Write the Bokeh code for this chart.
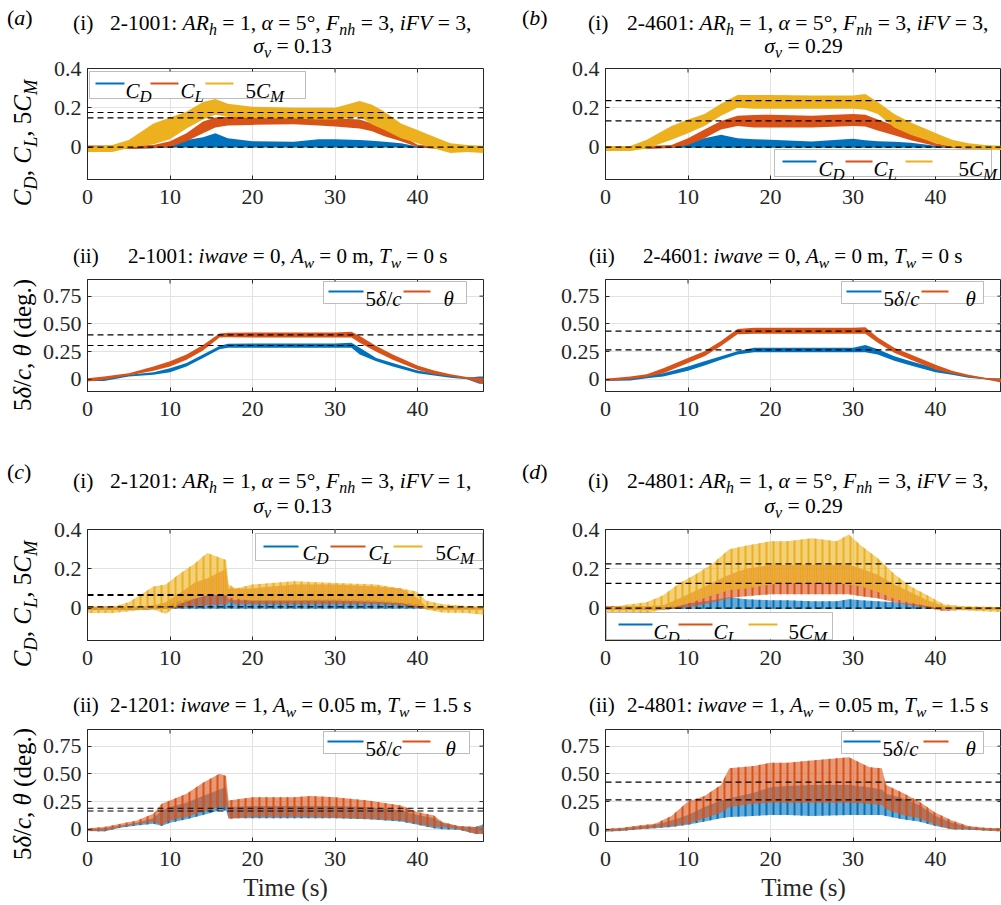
import numpy as np
from bokeh.plotting import figure
from bokeh.models import Range1d, FixedTicker, Span, BoxAnnotation, Label, Arrow, Div
from bokeh.layouts import column, row
from bokeh.embed import file_html
from bokeh.resources import INLINE

BLUE, ORANGE, YELLOW = "#0072BD", "#D95319", "#EDB120"
INK = "#262626"
FONT = "Liberation Serif"

# ---------------------------------------------------------------- axes / text data
X_TICKS = [0, 10, 20, 30, 40]
X_LIM = (0, 48)
Y_TICKS_FORCE = [0, 0.2, 0.4]
Y_LABELS_FORCE = ["0", "0.2", "0.4"]
Y_TICKS_MOTION = [0, 0.25, 0.5, 0.75]
Y_LABELS_MOTION = ["0", "0.25", "0.50", "0.75"]
YLIM_FORCE = (-0.165, 0.4)
YLIM_MOTION = (-0.11, 0.9)

RUN_IDS = ["2-1001", "2-4601", "2-1201", "2-4801"]
IFV = [3, 3, 1, 3]
SIGMA_V = ["0.13", "0.29", "0.13", "0.29"]
IWAVE = [0, 0, 1, 1]
A_W = ["0", "0", "0.05", "0.05"]
T_W = ["0", "0", "1.5", "1.5"]
PANEL_TAGS = ["a", "b", "c", "d"]

# ---------------------------------------------------------------- 2-1001 (calm water)
A1_T = [0, 3, 5, 8, 10, 12, 14, 15.5, 17, 20, 25, 28, 30, 33, 34.5, 36, 38, 40, 42, 44, 46, 48]
A1_CD_LO = [-0.01, -0.01, -0.01, -0.006, -0.002, -0.002, -0.002, -0.002, -0.002, -0.002, -0.002,
            -0.002, -0.002, -0.002, -0.002, -0.002, -0.002, -0.004, -0.005, -0.005, -0.005, -0.005]
A1_CD_HI = [0.003, 0.003, 0.003, 0.005, 0.015, 0.036, 0.05, 0.07, 0.045, 0.03, 0.027,
            0.04, 0.04, 0.036, 0.032, 0.027, 0.02, 0.003, 0.002, 0.002, 0.002, 0.002]
A1_CL_LO = [-0.01, -0.01, -0.01, -0.005, 0.0, 0.03, 0.07, 0.1, 0.11, 0.113, 0.116,
            0.11, 0.105, 0.095, 0.08, 0.055, 0.03, 0.0, -0.008, -0.01, -0.01, -0.01]
A1_CL_HI = [0.008, 0.008, 0.008, 0.01, 0.03, 0.07, 0.13, 0.15, 0.155, 0.155, 0.155,
            0.152, 0.147, 0.14, 0.12, 0.1, 0.06, 0.012, 0.005, 0.005, 0.005, 0.005]
A1_CM_LO = [-0.025, -0.025, -0.005, 0.015, 0.04, 0.095, 0.14, 0.165, 0.155, 0.147, 0.145,
            0.14, 0.14, 0.155, 0.115, 0.087, 0.045, 0.02, -0.007, -0.03, -0.025, -0.03]
A1_CM_HI = [0.0, 0.01, 0.036, 0.12, 0.15, 0.18, 0.23, 0.245, 0.22, 0.205, 0.2,
            0.2, 0.2, 0.235, 0.215, 0.18, 0.12, 0.087, 0.053, 0.02, 0.01, 0.007]
A1_REF = [0.176, 0.149, 0.0]

A2_T = [0, 2, 5, 8, 10, 12, 14, 16, 17, 20, 25, 30, 32, 33, 35, 37, 40, 42, 44, 46, 47.5, 48]
A2_DEF_LO = [-0.015, -0.015, 0.025, 0.04, 0.064, 0.116, 0.193, 0.27, 0.285, 0.285, 0.285, 0.285,
             0.285, 0.223, 0.162, 0.116, 0.055, 0.034, 0.015, 0.0, -0.04, -0.04]
A2_DEF_HI = [0.005, 0.01, 0.04, 0.064, 0.1, 0.147, 0.223, 0.3, 0.32, 0.322, 0.322, 0.322,
             0.33, 0.284, 0.193, 0.147, 0.08, 0.055, 0.034, 0.015, 0.025, 0.025]
A2_TH_LO = [-0.02, -0.005, 0.034, 0.076, 0.116, 0.177, 0.26, 0.376, 0.38, 0.378, 0.378, 0.378,
            0.376, 0.33, 0.248, 0.177, 0.086, 0.046, 0.025, 0.003, -0.03, -0.04]
A2_TH_HI = [0.01, 0.025, 0.055, 0.116, 0.162, 0.223, 0.31, 0.413, 0.42, 0.422, 0.422, 0.422,
            0.428, 0.39, 0.3, 0.223, 0.125, 0.08, 0.046, 0.02, 0.015, 0.015]
A2_REF = [0.40, 0.305]

# ---------------------------------------------------------------- 2-4601 (calm water)
B1_T = [0, 3, 5, 8, 10, 12, 14, 16, 18, 20, 25, 30, 31.5, 33, 35, 37, 40, 42, 44, 46, 48]
B1_CD_LO = [-0.008, -0.008, -0.008, -0.004, -0.003, -0.003, -0.003, -0.003, -0.003, -0.003, -0.003,
            -0.003, -0.003, -0.003, -0.003, -0.003, -0.003, -0.004, -0.005, -0.005, -0.005]
B1_CD_HI = [0.003, 0.003, 0.003, 0.005, 0.02, 0.045, 0.063, 0.045, 0.04, 0.037, 0.028,
            0.042, 0.035, 0.03, 0.027, 0.022, 0.007, 0.003, 0.003, 0.003, 0.003]
B1_CL_LO = [-0.01, -0.01, -0.008, -0.005, 0.01, 0.045, 0.09, 0.107, 0.1, 0.1, 0.1,
            0.107, 0.105, 0.085, 0.06, 0.035, 0.005, -0.005, -0.008, -0.008, -0.01]
B1_CL_HI = [0.005, 0.005, 0.005, 0.01, 0.045, 0.09, 0.133, 0.16, 0.163, 0.165, 0.16,
            0.168, 0.165, 0.14, 0.11, 0.075, 0.02, 0.005, 0.005, 0.005, 0.005]
B1_CM_LO = [-0.02, -0.02, -0.007, 0.037, 0.07, 0.107, 0.16, 0.2, 0.195, 0.195, 0.195,
            0.195, 0.19, 0.168, 0.1, 0.063, 0.02, 0.0, -0.007, -0.012, -0.015]
B1_CM_HI = [0.005, 0.005, 0.037, 0.107, 0.14, 0.168, 0.22, 0.265, 0.265, 0.265, 0.262,
            0.262, 0.27, 0.23, 0.168, 0.125, 0.072, 0.037, 0.02, 0.01, 0.007]
B1_REF = [0.236, 0.133, 0.0]

B2_T = [0, 3, 5, 7, 10, 12, 14, 16, 18, 25, 30, 31.5, 33, 35, 37, 40, 42, 44, 46, 48]
B2_DEF_LO = [-0.015, -0.01, 0.01, 0.025, 0.076, 0.125, 0.177, 0.223, 0.245, 0.245, 0.245,
             0.245, 0.223, 0.168, 0.125, 0.064, 0.04, 0.015, 0.0, -0.02]
B2_DEF_HI = [0.003, 0.015, 0.034, 0.055, 0.116, 0.162, 0.208, 0.254, 0.284, 0.284, 0.284,
             0.31, 0.27, 0.208, 0.162, 0.1, 0.064, 0.034, 0.012, 0.008]
B2_TH_LO = [-0.015, 0.0, 0.02, 0.055, 0.147, 0.208, 0.3, 0.407, 0.41, 0.41, 0.41,
            0.41, 0.33, 0.24, 0.177, 0.086, 0.052, 0.02, 0.0, -0.03]
B2_TH_HI = [0.005, 0.025, 0.046, 0.1, 0.193, 0.254, 0.346, 0.453, 0.465, 0.465, 0.465,
            0.47, 0.376, 0.284, 0.223, 0.131, 0.076, 0.04, 0.015, 0.003]
B2_REF = [0.435, 0.265]

# ---------------------------------------------------------------- 2-1201 (regular waves)
C1_T = [0, 3, 5, 7, 8, 9.5, 11, 13, 14.5, 16.8, 17.1, 18, 20, 25, 30, 35, 38, 40, 41, 43, 46, 48]
C1_CD_LO = [-0.01, -0.01, -0.01, -0.008, -0.006, -0.004, -0.003, -0.003, -0.003, -0.003, -0.003,
            -0.003, -0.003, -0.003, -0.003, -0.003, -0.003, -0.003, -0.004, -0.005, -0.005, -0.005]
C1_CD_HI = [0.003, 0.003, 0.003, 0.003, 0.005, 0.01, 0.035, 0.05, 0.065, 0.07, 0.045,
            0.04, 0.04, 0.04, 0.045, 0.04, 0.03, 0.02, 0.003, 0.003, 0.003, 0.003]
C1_CL_LO = [-0.01, -0.01, -0.01, -0.008, -0.005, -0.005, 0.0, 0.01, 0.015, 0.02, 0.03,
            0.02, 0.02, 0.02, 0.02, 0.02, 0.015, 0.0, -0.005, -0.01, -0.01, -0.01]
C1_CL_HI = [0.008, 0.008, 0.008, 0.01, 0.015, 0.03, 0.07, 0.13, 0.15, 0.2, 0.1,
            0.1, 0.1, 0.12, 0.12, 0.11, 0.1, 0.05, 0.01, 0.005, 0.005, 0.005]
C1_CM_LO = [-0.025, -0.025, -0.016, -0.007, -0.007, -0.03, 0.02, 0.047, 0.065, 0.065, 0.056,
            0.047, 0.038, 0.038, 0.038, 0.032, 0.025, 0.01, -0.007, -0.022, -0.025, -0.034]
C1_CM_HI = [0.005, 0.005, 0.03, 0.083, 0.11, 0.12, 0.17, 0.227, 0.28, 0.245, 0.12,
            0.1, 0.12, 0.137, 0.128, 0.12, 0.1, 0.083, 0.038, 0.02, 0.01, 0.007]
C1_REF = [0.068, 0.064, 0.006]

C2_T = [0, 2, 4, 6, 8, 9, 10, 12, 14, 16, 16.8, 17.1, 20, 25, 27, 30, 34, 38, 40, 42, 43, 45, 47, 48]
C2_DEF_LO = [-0.015, -0.02, 0.015, 0.035, 0.05, 0.03, 0.06, 0.09, 0.13, 0.17, 0.17, 0.1,
             0.1, 0.1, 0.1, 0.1, 0.09, 0.07, 0.04, 0.01, 0.0, -0.005, -0.04, -0.04]
C2_DEF_HI = [0.005, 0.01, 0.035, 0.06, 0.1, 0.17, 0.2, 0.24, 0.3, 0.36, 0.38, 0.2,
             0.21, 0.21, 0.21, 0.21, 0.2, 0.17, 0.13, 0.1, 0.06, 0.025, 0.02, 0.045]
C2_TH_LO = [-0.015, -0.015, 0.02, 0.045, 0.065, 0.036, 0.08, 0.11, 0.155, 0.2, 0.2, 0.095,
            0.11, 0.11, 0.11, 0.104, 0.095, 0.08, 0.05, 0.02, 0.02, 0.0, -0.04, -0.045]
C2_TH_HI = [0.01, 0.02, 0.05, 0.08, 0.14, 0.23, 0.26, 0.32, 0.42, 0.5, 0.48, 0.26,
            0.29, 0.29, 0.3, 0.29, 0.26, 0.215, 0.155, 0.125, 0.065, 0.03, 0.02, 0.027]
C2_REF = [0.19, 0.165]

# ---------------------------------------------------------------- 2-4801 (regular waves)
D1_T = [0, 3, 5, 7, 9, 11, 13, 15, 17, 20, 22, 25, 28, 29.5, 31, 33, 35, 37, 39, 41, 43, 45, 48]
D1_CD_LO = [-0.008, -0.008, -0.008, -0.006, -0.003, -0.003, -0.003, -0.003, -0.003, -0.003, -0.003,
            -0.003, -0.003, -0.003, -0.003, -0.003, -0.003, -0.003, -0.003, -0.004, -0.005, -0.005, -0.005]
D1_CD_HI = [0.003, 0.003, 0.003, 0.005, 0.015, 0.03, 0.04, 0.055, 0.045, 0.04, 0.04,
            0.035, 0.035, 0.045, 0.04, 0.035, 0.03, 0.022, 0.012, 0.003, 0.003, 0.003, 0.003]
D1_CL_LO = [-0.01, -0.01, -0.01, -0.01, 0.0, 0.01, 0.03, 0.05, 0.06, 0.07, 0.07,
            0.07, 0.07, 0.07, 0.06, 0.05, 0.03, 0.015, 0.0, -0.015, -0.01, -0.01, -0.01]
D1_CL_HI = [0.01, 0.01, 0.01, 0.015, 0.05, 0.09, 0.13, 0.17, 0.2, 0.22, 0.22,
            0.22, 0.22, 0.22, 0.2, 0.17, 0.12, 0.08, 0.04, 0.01, 0.005, 0.005, 0.005]
D1_CM_LO = [-0.02, -0.02, -0.025, -0.007, 0.01, 0.038, 0.065, 0.092, 0.1, 0.12, 0.128,
            0.128, 0.128, 0.12, 0.11, 0.083, 0.047, 0.029, 0.01, -0.007, -0.01, -0.015, -0.02]
D1_CM_HI = [0.0, 0.02, 0.03, 0.065, 0.128, 0.173, 0.227, 0.3, 0.317, 0.34, 0.34,
            0.355, 0.34, 0.375, 0.317, 0.254, 0.173, 0.11, 0.065, 0.02, 0.01, 0.008, 0.006]
D1_REF = [0.225, 0.126, 0.0]

D2_T = [0, 2, 4, 6, 8, 10, 12, 14, 15, 18, 20, 22, 25, 29.5, 32, 33.5, 34, 36, 38, 40, 42, 44, 46, 48]
D2_DEF_LO = [-0.02, -0.015, 0.0, 0.01, 0.02, 0.04, 0.07, 0.1, 0.11, 0.12, 0.13, 0.13,
             0.12, 0.13, 0.13, 0.13, 0.12, 0.09, 0.07, 0.03, 0.0, -0.005, -0.01, -0.015]
D2_DEF_HI = [0.0, 0.01, 0.025, 0.04, 0.08, 0.13, 0.2, 0.26, 0.28, 0.33, 0.38, 0.39,
             0.4, 0.4, 0.38, 0.36, 0.32, 0.28, 0.22, 0.12, 0.06, 0.02, 0.01, 0.005]
D2_TH_LO = [-0.02, -0.01, 0.0, 0.015, 0.03, 0.05, 0.1, 0.15, 0.2, 0.23, 0.24, 0.24,
            0.24, 0.24, 0.23, 0.22, 0.18, 0.13, 0.1, 0.04, 0.0, 0.0, -0.01, -0.02]
D2_TH_HI = [0.005, 0.015, 0.035, 0.05, 0.12, 0.25, 0.3, 0.4, 0.55, 0.57, 0.6, 0.6,
            0.62, 0.65, 0.56, 0.55, 0.4, 0.33, 0.25, 0.15, 0.08, 0.03, 0.015, 0.01]
D2_REF = [0.425, 0.265]

# ---------------------------------------------------------------- page geometry (px)
FRAME_W = 396
COL_LEFT = [87, 605]
ROW_TOP = [68, 279, 529, 729]
ROW_H = [111, 112, 111, 112]
BORDER_TOP = [11, 2, 11, 2]
BORDER_BOTTOM = [56, 64, 45, 64]
FIG_H = [t + h + b for t, h, b in zip(BORDER_TOP, ROW_H, BORDER_BOTTOM)]
YLAB_W = 38
TICK_LEN = 4
TITLE_SIZE_I = 21.6
TITLE_SIZE_II = 21

# legend layouts in page pixels: box (l, t, r, b), sample-line y, text baseline,
# items (line x0, line x1, text x)
LEG_FORCE = {
    (0, 0): dict(box=(89, 71, 305, 98), ly=83, base=90, items=[(95, 124, 125), (150, 178, 180), (205, 233, 245)]),
    (1, 0): dict(box=(774, 149, 991, 176), ly=161, base=168, items=[(782, 816, 818), (845, 872, 873), (905, 932, 958)]),
    (0, 2): dict(box=(255, 533, 482, 560), ly=546, base=552, items=[(263, 298, 302), (330, 365, 368), (393, 422, 435)]),
    (1, 2): dict(box=(606, 612, 832, 639), ly=624, base=631, items=[(618, 652, 653), (678, 712, 713), (748, 777, 788)]),
}
LEG_MOTION = {
    (0, 1): dict(box=(323, 281, 466, 303), ly=291, base=298, items=[(328, 363, 365), (403, 430, 443)]),
    (1, 1): dict(box=(841, 281, 983, 303), ly=291, base=298, items=[(846, 881, 883), (921, 948, 965)]),
    (0, 3): dict(box=(323, 731, 469, 753), ly=741, base=748, items=[(327, 363, 365), (402, 430, 445)]),
    (1, 3): dict(box=(841, 731, 983, 753), ly=741, base=748, items=[(843, 880, 882), (923, 948, 965)]),
}

# approximate Times advance widths (em) for legend text runs
W_REG = {"5": 0.5, "/": 0.278}
W_ITA = {"C": 0.667, "D": 0.722, "L": 0.556, "M": 0.833, "c": 0.444, "δ": 0.5, "θ": 0.5}
LEG_SIZE = 21
SUB_SCALE = 0.8
SUB_DROP = 6

FORCE_RUNS = [[("C", "italic", False), ("D", "italic", True)],
              [("C", "italic", False), ("L", "italic", True)],
              [("5", "normal", False), ("C", "italic", False), ("M", "italic", True)]]
MOTION_RUNS = [[("5", "normal", False), ("δ", "italic", False), ("/", "normal", False), ("c", "italic", False)],
               [("θ", "italic", False)]]


def to_data(col, r, ylim, px, py):
    x = X_LIM[0] + (px - COL_LEFT[col]) / FRAME_W * (X_LIM[1] - X_LIM[0])
    y = ylim[1] - (py - ROW_TOP[r]) / ROW_H[r] * (ylim[1] - ylim[0])
    return x, y


def draw_legend(p, col, r, ylim, spec, colors, runs_list):
    l, t, rr, b = spec["box"]
    x0, y0 = to_data(col, r, ylim, l, b)
    x1, y1 = to_data(col, r, ylim, rr, t)
    p.add_layout(BoxAnnotation(left=x0, right=x1, bottom=y0, top=y1, fill_color="white",
                               fill_alpha=1.0, line_color=INK, line_width=1))
    for (lx0, lx1, tx), color, runs in zip(spec["items"], colors, runs_list):
        a0, ay = to_data(col, r, ylim, lx0, spec["ly"])
        a1, _ = to_data(col, r, ylim, lx1, spec["ly"])
        p.add_layout(Arrow(end=None, x_start=a0, y_start=ay, x_end=a1, y_end=ay,
                           line_color=color, line_width=2))
        cx = tx
        for txt, style, is_sub in runs:
            size = LEG_SIZE * (SUB_SCALE if is_sub else 1.0)
            by = spec["base"] + (SUB_DROP if is_sub else 0)
            lx, ly = to_data(col, r, ylim, cx, by)
            p.add_layout(Label(x=lx, y=ly, text=txt, text_font=FONT, text_font_size=f"{size:.1f}px",
                               text_font_style=style, text_color="black",
                               text_baseline="alphabetic", text_align="left"))
            table = W_ITA if style == "italic" else W_REG
            cx += table.get(txt, 0.5) * size


def style_axis(ax, ticks, standoff, overrides=None):
    ax.ticker = FixedTicker(ticks=ticks)
    ax.axis_line_color = INK
    ax.axis_line_width = 1
    ax.major_tick_line_color = INK
    ax.major_tick_in = TICK_LEN
    ax.major_tick_out = 0
    ax.minor_tick_line_color = None
    ax.major_label_text_font = FONT
    ax.major_label_text_font_size = "22px"
    ax.major_label_text_color = INK
    ax.major_label_standoff = standoff
    if overrides:
        ax.major_label_overrides = overrides


def mirror_ticks(p, r, ylim, yticks):
    # box ticks along the top and right edges of the frame
    dy = TICK_LEN / ROW_H[r] * (ylim[1] - ylim[0])
    dx = TICK_LEN / FRAME_W * (X_LIM[1] - X_LIM[0])
    xt = [v for v in X_TICKS if X_LIM[0] < v < X_LIM[1]]
    p.segment(x0=xt, y0=[ylim[1]] * len(xt), x1=xt, y1=[ylim[1] - dy] * len(xt),
              line_color=INK, line_width=1)
    yt = [v for v in yticks if ylim[0] < v < ylim[1]]
    p.segment(x0=[X_LIM[1]] * len(yt), y0=yt, x1=[X_LIM[1] - dx] * len(yt), y1=yt,
              line_color=INK, line_width=1)


def make_panel(col, r, t, series, refs, wave):
    force = r in (0, 2)
    ylim = YLIM_FORCE if force else YLIM_MOTION
    yticks = Y_TICKS_FORCE if force else Y_TICKS_MOTION
    ylabels = Y_LABELS_FORCE if force else Y_LABELS_MOTION
    bl = 49 if col == 0 else 60
    br = 62 if col == 0 else 0
    p = figure(width=bl + FRAME_W + br, height=FIG_H[r], x_range=Range1d(*X_LIM), y_range=Range1d(*ylim),
               output_backend="svg", toolbar_location=None, min_border_left=bl, min_border_right=br,
               min_border_top=BORDER_TOP[r], min_border_bottom=BORDER_BOTTOM[r])
    p.background_fill_color = "white"
    p.border_fill_color = "white"
    p.outline_line_color = INK
    xax = p.xaxis[0]
    style_axis(xax, X_TICKS, 10)
    style_axis(p.yaxis[0], yticks, 6, {v: s for v, s in zip(yticks, ylabels)})
    p.xgrid.ticker = FixedTicker(ticks=X_TICKS)
    p.ygrid.ticker = FixedTicker(ticks=yticks)
    for g in (p.xgrid, p.ygrid):
        g.grid_line_color = "#e2e2e2"
        g.grid_line_width = 1
    if r == 3:
        xax.axis_label = "Time (s)"
        xax.axis_label_text_font = FONT
        xax.axis_label_text_font_size = "25px"
        xax.axis_label_text_font_style = "normal"
        xax.axis_label_text_color = INK
        xax.axis_label_standoff = 5
    mirror_ticks(p, r, ylim, yticks)

    for color, lo, hi in series:
        if wave:
            p.varea(x=t, y1=lo, y2=hi, fill_color=color, fill_alpha=0.6,
                    hatch_pattern="|", hatch_color=color, hatch_scale=7, hatch_weight=2)
        else:
            p.varea(x=t, y1=lo, y2=hi, fill_color=color, fill_alpha=1.0)
    for v in refs:
        p.add_layout(Span(location=v, dimension="width", line_color="black",
                          line_dash="6 4", line_width=1.2))
    colors = [c for c, _, _ in series]
    if force:
        draw_legend(p, col, r, ylim, LEG_FORCE[(col, r)], colors, FORCE_RUNS)
    else:
        draw_legend(p, col, r, ylim, LEG_MOTION[(col, r)], colors, MOTION_RUNS)
    return p


# ---------------------------------------------------------------- rich text (HTML)
def it(s):
    return f"<i>{s}</i>"


def sub(s):
    return (f'<span style="font-size:0.74em;position:relative;top:0.32em;'
            f'font-style:italic">{s}</span>')


def place(x, y, content, size=TITLE_SIZE_I, align="c", rotate=False):
    tx = {"c": "-50%", "l": "0"}[align]
    rot = " rotate(-90deg)" if rotate else ""
    return (f'<div style="position:absolute;left:{x}px;top:{y}px;transform:translate({tx},-50%){rot};'
            f"font-family:'{FONT}';font-size:{size}px;line-height:1;white-space:nowrap;"
            f'color:#000;">{content}</div>')


def text_band(width, height, parts):
    html = f'<div style="position:relative;width:{width}px;height:{height}px;">{"".join(parts)}</div>'
    return Div(text=html, width=width, height=height, margin=(0, 0, 0, 0),
               styles={"overflow": "visible"})


def force_title(k):
    return (f"{RUN_IDS[k]}: {it('AR')}{sub('h')} = 1, {it('α')} = 5°, {it('F')}{sub('nh')} = 3, "
            f"{it('iFV')} = {IFV[k]},")


def sigma_line(k):
    return f"{it('σ')}{sub('v')} = {SIGMA_V[k]}"


def motion_title(k):
    return (f"{RUN_IDS[k]}: {it('iwave')} = {IWAVE[k]}, {it('A')}{sub('w')} = {A_W[k]} m, "
            f"{it('T')}{sub('w')} = {T_W[k]} s")


def force_band(k_left, k_right, y0, height, y_tag, y_l1, y_l2):
    parts = []
    for k, x_tag, x_i, x1, cx2 in ((k_left, 7, 73, 110, 292.5), (k_right, 522, 588, 627, 803.5)):
        parts.append(place(x_tag, y_tag - y0, f"({it(PANEL_TAGS[k])})", size=22, align="l"))
        parts.append(place(x_i, y_l1 - y0, "(i)", align="l"))
        parts.append(place(x1, y_l1 - y0, force_title(k), align="l"))
        parts.append(place(cx2, y_l2 - y0, sigma_line(k)))
    return text_band(1001, height, parts)


def motion_band(k_left, k_right, y0, height, y, starts):
    parts = []
    for k, x_ii, x1 in ((k_left, 73, starts[0]), (k_right, 589, starts[1])):
        parts.append(place(x_ii, y - y0, "(ii)", size=TITLE_SIZE_II, align="l"))
        parts.append(place(x1, y - y0, motion_title(k), size=TITLE_SIZE_II, align="l"))
    return text_band(1001, height, parts)


FORCE_YLABEL = f"{it('C')}{sub('D')}, {it('C')}{sub('L')}, 5{it('C')}{sub('M')}"
MOTION_YLABEL = f"5{it('δ')}/{it('c')}, {it('θ')} (deg.)"


def ylabel_div(r, cy_page, content):
    top = ROW_TOP[r] - BORDER_TOP[r]
    return text_band(YLAB_W, FIG_H[r], [place(22, cy_page - top, content, size=25, rotate=True)])


# ---------------------------------------------------------------- panels
pa1 = make_panel(0, 0, A1_T, [(BLUE, A1_CD_LO, A1_CD_HI), (ORANGE, A1_CL_LO, A1_CL_HI),
                              (YELLOW, A1_CM_LO, A1_CM_HI)], A1_REF, False)
pb1 = make_panel(1, 0, B1_T, [(BLUE, B1_CD_LO, B1_CD_HI), (ORANGE, B1_CL_LO, B1_CL_HI),
                              (YELLOW, B1_CM_LO, B1_CM_HI)], B1_REF, False)
pa2 = make_panel(0, 1, A2_T, [(BLUE, A2_DEF_LO, A2_DEF_HI), (ORANGE, A2_TH_LO, A2_TH_HI)], A2_REF, False)
pb2 = make_panel(1, 1, B2_T, [(BLUE, B2_DEF_LO, B2_DEF_HI), (ORANGE, B2_TH_LO, B2_TH_HI)], B2_REF, False)
pc1 = make_panel(0, 2, C1_T, [(BLUE, C1_CD_LO, C1_CD_HI), (ORANGE, C1_CL_LO, C1_CL_HI),
                              (YELLOW, C1_CM_LO, C1_CM_HI)], C1_REF, True)
pd1 = make_panel(1, 2, D1_T, [(BLUE, D1_CD_LO, D1_CD_HI), (ORANGE, D1_CL_LO, D1_CL_HI),
                              (YELLOW, D1_CM_LO, D1_CM_HI)], D1_REF, True)
pc2 = make_panel(0, 3, C2_T, [(BLUE, C2_DEF_LO, C2_DEF_HI), (ORANGE, C2_TH_LO, C2_TH_HI)], C2_REF, True)
pd2 = make_panel(1, 3, D2_T, [(BLUE, D2_DEF_LO, D2_DEF_HI), (ORANGE, D2_TH_LO, D2_TH_HI)], D2_REF, True)

# vertical bands of title text between the panel rows
b1_top, b1_h = 0, ROW_TOP[0] - BORDER_TOP[0]
b2_top = ROW_TOP[0] - BORDER_TOP[0] + FIG_H[0]
b2_h = ROW_TOP[1] - BORDER_TOP[1] - b2_top
b3_top = ROW_TOP[1] - BORDER_TOP[1] + FIG_H[1]
b3_h = ROW_TOP[2] - BORDER_TOP[2] - b3_top
b4_top = ROW_TOP[2] - BORDER_TOP[2] + FIG_H[2]
b4_h = ROW_TOP[3] - BORDER_TOP[3] - b4_top

layout = column(
    force_band(0, 1, b1_top, b1_h, 18, 24, 46.7),
    row(ylabel_div(0, 143, FORCE_YLABEL), pa1, pb1, spacing=0),
    motion_band(0, 1, b2_top, b2_h, 256, (128, 643)),
    row(ylabel_div(1, 345, MOTION_YLABEL), pa2, pb2, spacing=0),
    force_band(2, 3, b3_top, b3_h, 471.7, 481.7, 507),
    row(ylabel_div(2, 604, FORCE_YLABEL), pc1, pd1, spacing=0),
    motion_band(2, 3, b4_top, b4_h, 705, (110, 627)),
    row(ylabel_div(3, 794, MOTION_YLABEL), pc2, pd2, spacing=0),
    spacing=0,
)

open("out.html", "w").write(file_html(layout, INLINE))
